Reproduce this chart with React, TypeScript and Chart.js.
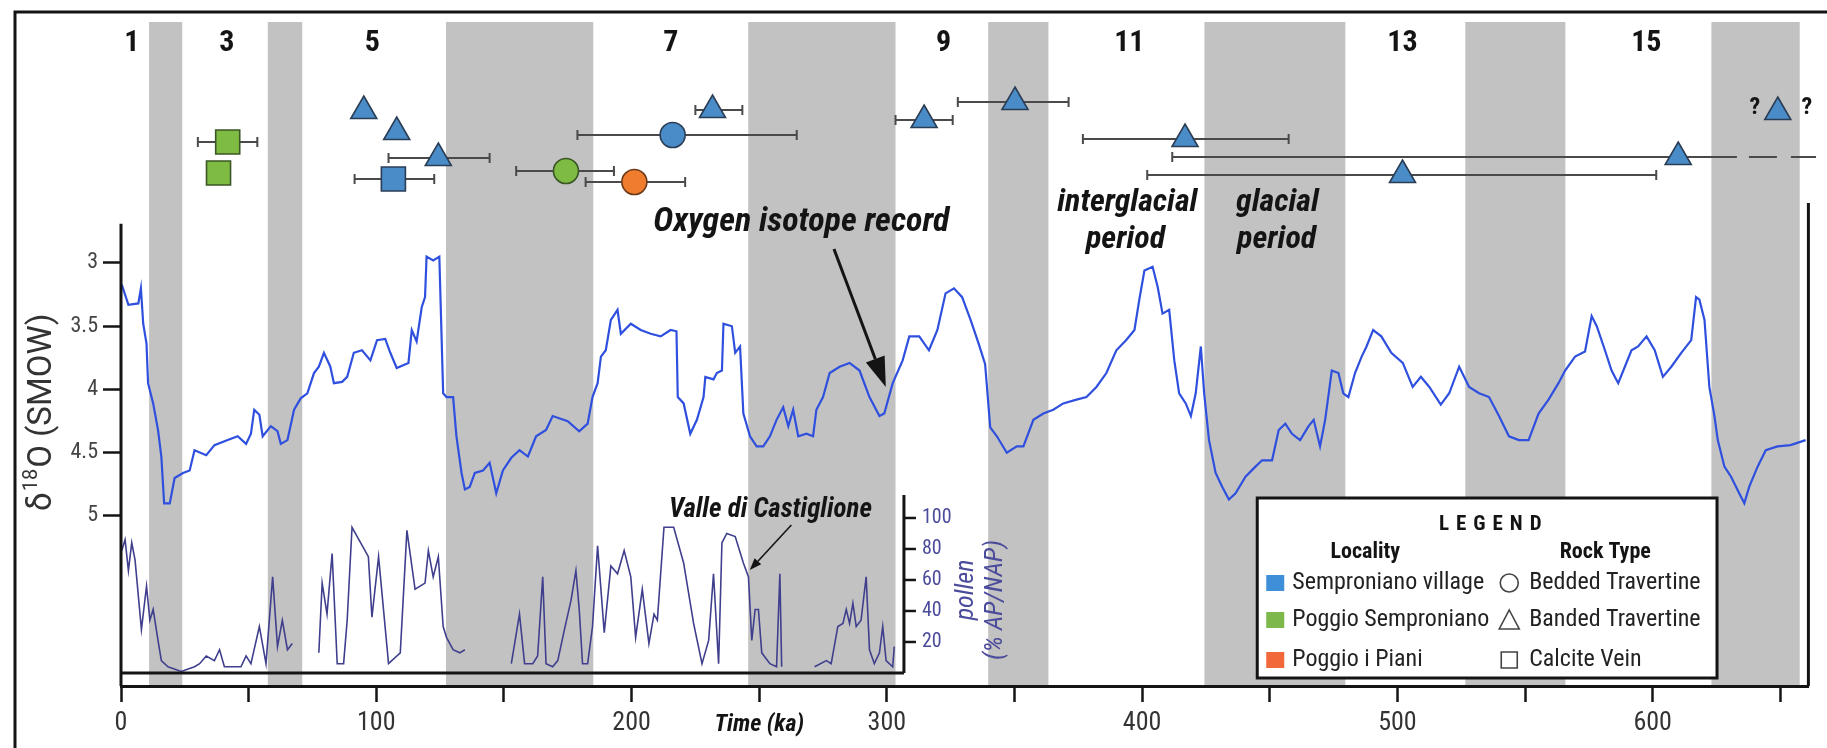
import { useEffect, useRef } from 'react';
import { Chart, registerables } from 'chart.js';

Chart.register(...registerables);

const NARROW = "'Liberation Sans Narrow', 'Arial Narrow', 'Roboto Condensed', Roboto, sans-serif";
const SANS = "Roboto, 'Liberation Sans', sans-serif";

// ---- glacial (even MIS) bands, ka ----
const bandStart = [11, 57.5, 127.3, 245.7, 339.7, 424.4, 526.6, 623];
const bandEnd = [24, 71, 185, 303.4, 363.3, 479.6, 565.8, 657.6];

// ---- interglacial stage numbers ----
const stageLabels = ['1', '3', '5', '7', '9', '11', '13', '15'];
const stageAge = [4.2, 41.5, 98.5, 215.4, 322.2, 395, 502, 597.5];

// ---- oxygen isotope record ----
const isoAge = [
  0.3, 2.9, 6.8, 7.8, 8.7, 10, 10.6, 12.6, 14.5, 15.8,
  16.9, 19.1, 21, 24.3, 26.9, 28.8, 33.4, 36.6, 41.8, 45.7,
  49, 50.9, 52.2, 54.2, 55.5, 58.7, 61.3, 62.6, 65.2, 67.8,
  70.4, 73, 75.6, 77.5, 79.5, 82, 83.4, 86.6, 88.6, 91.2,
  94.4, 97.7, 100.3, 103.5, 105.5, 108, 112.6, 113.9, 115.8, 117.8,
  119.1, 119.7, 122.3, 124.7, 126.2, 127.5, 130.1, 131.4, 133.4, 134.7,
  136.6, 138.6, 141.8, 144.4, 147, 149.6, 152.9, 156.1, 159.4, 162.6,
  166.5, 169.1, 175, 179.5, 182.8, 184.7, 186.7, 188, 189.9, 191.9,
  194.5, 195.8, 199.7, 203.6, 207.5, 211.4, 215.3, 217.6, 218.1, 220.4,
  223, 225.6, 228.2, 228.9, 232.1, 233.4, 235.4, 236, 239.3, 240.6,
  242.5, 243.8, 246.4, 249, 251.6, 254.2, 256.8, 259.4, 261.4, 263.3,
  265.3, 268.5, 271.1, 272.4, 275, 277.6, 281.5, 285.4, 289.3, 293.2,
  297.1, 299, 302.3, 306.2, 308.8, 312.7, 316.5, 319.8, 323, 326.3,
  329.5, 332.8, 336, 338.5, 340.5, 343.1, 347, 350.9, 353.5, 357.4,
  361.3, 365.2, 369.1, 374.3, 378.2, 382.1, 386, 389.9, 393.7, 397,
  398.9, 400.9, 404.1, 406.1, 408, 410.6, 412.6, 414.5, 417.1, 419.1,
  421, 423, 424.3, 426.2, 428.8, 431.4, 434, 436.6, 440.5, 444.4,
  447, 450.9, 453.5, 456.1, 458.7, 461.9, 465.2, 467.2, 469.7, 471.7,
  474.3, 476.9, 478.8, 480.8, 483.4, 486, 487.9, 490.5, 493.7, 497.6,
  502.1, 506, 509.2, 512.5, 517, 520.3, 524.2, 528.1, 532, 535.9,
  539.8, 543.7, 547.6, 551.4, 555.3, 559.2, 563.1, 565.7, 569.6, 573.5,
  576.1, 578.1, 581.3, 583.9, 586.5, 589.1, 591.7, 594.3, 597.6, 600.8,
  604, 607.3, 611.2, 615.1, 617, 618.3, 620.3, 622.2, 624.2, 625.5,
  628.1, 630.7, 633.9, 635.9, 637.8, 641.1, 644.3, 648.9, 654, 659.9,
];
const isoValue = [
  3.17, 3.33, 3.32, 3.2, 3.48, 3.64, 3.95, 4.11, 4.32, 4.53,
  4.9, 4.9, 4.7, 4.66, 4.64, 4.48, 4.52, 4.44, 4.4, 4.37,
  4.43, 4.35, 4.16, 4.2, 4.37, 4.29, 4.33, 4.43, 4.4, 4.16,
  4.07, 4.03, 3.87, 3.82, 3.71, 3.82, 3.95, 3.94, 3.9, 3.71,
  3.69, 3.77, 3.61, 3.6, 3.71, 3.83, 3.79, 3.53, 3.62, 3.35,
  3.27, 2.95, 2.98, 2.95, 4.03, 4.06, 4.06, 4.37, 4.66, 4.79,
  4.77, 4.66, 4.64, 4.58, 4.82, 4.64, 4.54, 4.48, 4.53, 4.37,
  4.32, 4.21, 4.25, 4.33, 4.27, 4.06, 3.95, 3.74, 3.69, 3.45,
  3.37, 3.56, 3.48, 3.53, 3.56, 3.58, 3.53, 3.54, 4.06, 4.11,
  4.35, 4.24, 4.06, 3.9, 3.92, 3.87, 3.85, 3.48, 3.5, 3.71,
  3.66, 4.19, 4.37, 4.45, 4.45, 4.37, 4.24, 4.14, 4.29, 4.16,
  4.37, 4.35, 4.37, 4.16, 4.06, 3.87, 3.82, 3.79, 3.85, 4.06,
  4.21, 4.19, 3.95, 3.77, 3.58, 3.58, 3.69, 3.53, 3.24, 3.2,
  3.27, 3.45, 3.64, 3.8, 4.3, 4.37, 4.5, 4.45, 4.45, 4.24,
  4.19, 4.16, 4.11, 4.08, 4.06, 3.98, 3.87, 3.69, 3.61, 3.53,
  3.29, 3.06, 3.03, 3.19, 3.4, 3.37, 3.77, 4.03, 4.11, 4.21,
  4.03, 3.66, 4.03, 4.4, 4.66, 4.77, 4.87, 4.82, 4.69, 4.61,
  4.56, 4.56, 4.32, 4.27, 4.35, 4.4, 4.29, 4.24, 4.45, 4.24,
  3.85, 3.87, 4.03, 4.06, 3.87, 3.74, 3.66, 3.53, 3.58, 3.71,
  3.79, 3.98, 3.9, 3.98, 4.12, 4.03, 3.82, 3.98, 4.03, 4.06,
  4.21, 4.37, 4.4, 4.4, 4.19, 4.08, 3.95, 3.85, 3.74, 3.7,
  3.42, 3.5, 3.69, 3.85, 3.95, 3.82, 3.69, 3.66, 3.58, 3.69,
  3.9, 3.82, 3.71, 3.61, 3.27, 3.29, 3.45, 3.98, 4.21, 4.4,
  4.61, 4.69, 4.82, 4.9, 4.77, 4.61, 4.48, 4.45, 4.44, 4.4,
];

// ---- Valle di Castiglione pollen (% AP/NAP); null = gap in record ----
const pollenAge = [
  0.3, 1.6, 2.9, 4.2, 5.5, 8, 10, 11.3, 12.6, 14.5,
  15.8, 18.4, 23.6, 28.8, 30.8, 33.4, 36.6, 38.6, 40.5, 47,
  49, 50.9, 54.2, 56.8, 59.4, 61.3, 63.2, 65.2, 67.1, 72,
  77.5, 78.8, 80.7, 82.7, 84.7, 87.2, 88.6, 90.5, 96.9, 98.3,
  100.9, 104.8, 109.4, 112, 115.2, 119.1, 120.4, 122.3, 124.3, 126.2,
  127.5, 130.1, 132.7, 134.7, 143, 152.9, 156.1, 158.1, 161.3, 163.2,
  165.2, 166.5, 169.1, 171.1, 173.7, 176.3, 178.2, 179.5, 180.8, 182.8,
  184.7, 186.7, 189.3, 191.9, 194.5, 197.1, 199.7, 201.6, 204.2, 206.8,
  208.8, 210.1, 212.7, 216.5, 220.4, 224.3, 227.6, 230.2, 232.1, 234.1,
  235.4, 237.3, 240.6, 243.8, 245.8, 247.1, 248.4, 249.7, 251, 254.2,
  256.8, 258.1, 258.8, 265, 271.7, 276.3, 278.2, 280.8, 282.8, 284.1,
  285.4, 286.7, 288, 289.9, 291.9, 293.2, 295.1, 297.1, 298.4, 299.7,
  302.3, 302.9,
];
const pollenValue = [
  79, 86, 66, 84, 73, 28, 56, 34, 41, 21,
  8, 4, 1, 4, 6, 11, 8, 15, 4, 4,
  11, 6, 30, 6, 62, 17, 34, 15, 19, null,
  13, 58, 38, 77, 6, 6, 34, 94, 75, 36,
  75, 6, 13, 92, 54, 58, 79, 62, 75, 30,
  23, 15, 13, 15, null, 6, 38, 6, 6, 11,
  62, 6, 4, 8, 28, 47, 66, 41, 6, 6,
  30, 82, 26, 69, 64, 79, 62, 23, 54, 19,
  38, 34, 94, 94, 71, 32, 6, 21, 64, 6,
  84, 90, 88, 71, 62, 21, 41, 41, 13, 6,
  4, 64, 4, null, 4, 8, 6, 30, 32, 41,
  32, 45, 30, 34, 62, 15, 6, 13, 30, 8,
  4, 17,
];

// ---- dated travertine samples (age ka, plotting row, age range) ----
const sampleAge = [95.1, 108.0, 124.3, 231.7, 314.6, 350.2, 416.8, 610.0, 502.0, 649.0, 106.7, 216.1, 41.8, 38.2, 174.3, 201.1];
const sampleRow = [8.9, 11.0, 13.6, 8.8, 9.8, 8.0, 11.7, 13.5, 15.3, 9.0, 15.7, 11.3, 12.0, 15.1, 14.9, 16.0];
const sampleMin = [null, null, 104.8, 225.0, 303.4, 327.8, 376.8, 411.8, 402.0, null, 91.5, 178.8, 30.1, null, 154.8, 182.0];
const sampleMax = [null, null, 144.4, 243.4, 325.8, 371.2, 457.4, 633.0, 601.4, null, 122.7, 264.7, 53.4, null, 193.1, 221.0];
const sampleMaxUncertain = [null, null, null, null, null, null, null, 664, null, null, null, null, null, null, null, null];
const sampleQueried = [false, false, false, false, false, false, false, false, false, true, false, false, false, false, false, false];
const sampleLocality = [
  'Semproniano village', 'Semproniano village', 'Semproniano village', 'Semproniano village',
  'Semproniano village', 'Semproniano village', 'Semproniano village', 'Semproniano village',
  'Semproniano village', 'Semproniano village', 'Semproniano village', 'Semproniano village',
  'Poggio Semproniano', 'Poggio Semproniano', 'Poggio Semproniano', 'Poggio i Piani',
];
const sampleRock = [
  'Banded Travertine', 'Banded Travertine', 'Banded Travertine', 'Banded Travertine',
  'Banded Travertine', 'Banded Travertine', 'Banded Travertine', 'Banded Travertine',
  'Banded Travertine', 'Banded Travertine', 'Calcite Vein', 'Bedded Travertine',
  'Calcite Vein', 'Calcite Vein', 'Bedded Travertine', 'Bedded Travertine',
];

// ---- axes ----
const timeTicks = [0, 50, 100, 150, 200, 250, 300, 350, 400, 450, 500, 550, 600, 650];
const isoTicks = [3, 3.5, 4, 4.5, 5];
const pollenTicks = [20, 40, 60, 80, 100];

const LOCALITIES = ['Semproniano village', 'Poggio Semproniano', 'Poggio i Piani'];
const ROCK_TYPES = ['Bedded Travertine', 'Banded Travertine', 'Calcite Vein'];

const LOC_FILL: Record<string, string> = {
  'Semproniano village': '#4a8cc8',
  'Poggio Semproniano': '#7dbb42',
  'Poggio i Piani': '#f07d2e',
};
const LOC_EDGE: Record<string, string> = {
  'Semproniano village': '#2a3d55',
  'Poggio Semproniano': '#3b5626',
  'Poggio i Piani': '#6b3a1a',
};
const LOC_SWATCH: Record<string, string> = {
  'Semproniano village': '#3f8fd8',
  'Poggio Semproniano': '#7cb84a',
  'Poggio i Piani': '#f2683a',
};
const ROCK_STYLE: Record<string, { style: string; radius: number }> = {
  'Bedded Travertine': { style: 'circle', radius: 12.5 },
  'Banded Travertine': { style: 'triangle', radius: 15 },
  'Calcite Vein': { style: 'rect', radius: 17 },
};

const BAND = '#c2c2c2';
const INK = '#141414';
const POLLEN_INK = '#4b4b9b';

function buildSampleDatasets() {
  const sets: any[] = [];
  for (const loc of LOCALITIES) {
    for (const rock of ROCK_TYPES) {
      const pts: any[] = [];
      sampleAge.forEach((age, i) => {
        if (sampleLocality[i] === loc && sampleRock[i] === rock) {
          pts.push({
            x: age,
            y: sampleRow[i],
            xMin: sampleMin[i],
            xMax: sampleMax[i],
            xMaxUncertain: sampleMaxUncertain[i],
            queried: sampleQueried[i],
          });
        }
      });
      if (pts.length) {
        sets.push({
          label: `${loc} – ${rock}`,
          data: pts,
          yAxisID: 'yRow',
          showLine: false,
          pointStyle: ROCK_STYLE[rock].style,
          pointRadius: ROCK_STYLE[rock].radius,
          pointHoverRadius: ROCK_STYLE[rock].radius,
          backgroundColor: LOC_FILL[loc],
          borderColor: LOC_EDGE[loc],
          pointBorderWidth: 1.6,
          isSample: true,
        });
      }
    }
  }
  return sets;
}

function drawText(ctx: CanvasRenderingContext2D, s: string, x: number, y: number, font: string, color: string, align: CanvasTextAlign = 'center', maxW?: number) {
  ctx.font = font;
  ctx.fillStyle = color;
  ctx.textAlign = align;
  ctx.textBaseline = 'middle';
  if (maxW) ctx.fillText(s, x, y, maxW);
  else ctx.fillText(s, x, y);
}

function drawSpaced(ctx: CanvasRenderingContext2D, s: string, cx: number, y: number, font: string, spacing: number) {
  ctx.font = font;
  ctx.fillStyle = INK;
  ctx.textAlign = 'left';
  ctx.textBaseline = 'middle';
  const widths = s.split('').map((c) => ctx.measureText(c).width);
  const total = widths.reduce((a, b) => a + b, 0) + spacing * (s.length - 1);
  let x = cx - total / 2;
  s.split('').forEach((c, i) => {
    ctx.fillText(c, x, y);
    x += widths[i] + spacing;
  });
}

function drawArrow(ctx: CanvasRenderingContext2D, x0: number, y0: number, x1: number, y1: number, lw: number, headLen: number, headW: number) {
  const ang = Math.atan2(y1 - y0, x1 - x0);
  const bx = x1 - headLen * Math.cos(ang);
  const by = y1 - headLen * Math.sin(ang);
  ctx.strokeStyle = INK;
  ctx.fillStyle = INK;
  ctx.lineWidth = lw;
  ctx.beginPath();
  ctx.moveTo(x0, y0);
  ctx.lineTo(bx, by);
  ctx.stroke();
  ctx.beginPath();
  ctx.moveTo(x1, y1);
  ctx.lineTo(bx + (headW / 2) * Math.sin(ang), by - (headW / 2) * Math.cos(ang));
  ctx.lineTo(bx - (headW / 2) * Math.sin(ang), by + (headW / 2) * Math.cos(ang));
  ctx.closePath();
  ctx.fill();
}

const figurePlugin = {
  id: 'figure',
  beforeDraw(chart: any) {
    const { ctx, chartArea: a, scales } = chart;
    ctx.save();
    ctx.fillStyle = '#ffffff';
    ctx.fillRect(0, 0, chart.width, chart.height);
    ctx.fillStyle = BAND;
    bandStart.forEach((s, i) => {
      const x0 = scales.x.getPixelForValue(s);
      const x1 = scales.x.getPixelForValue(bandEnd[i]);
      ctx.fillRect(x0, a.top, x1 - x0, a.bottom - a.top);
    });
    ctx.restore();
  },
  beforeDatasetsDraw(chart: any) {
    const { ctx, scales } = chart;
    const X = (v: number) => scales.x.getPixelForValue(v);
    const R = (v: number) => scales.yRow.getPixelForValue(v);
    ctx.save();
    ctx.strokeStyle = '#4a4a4a';
    ctx.lineWidth = 2;
    chart.data.datasets.forEach((ds: any) => {
      if (!ds.isSample) return;
      ds.data.forEach((p: any) => {
        if (p.xMin == null) return;
        const y = R(p.y);
        const x0 = X(p.xMin);
        const x1 = X(p.xMax);
        ctx.setLineDash([]);
        ctx.beginPath();
        ctx.moveTo(x0, y);
        ctx.lineTo(x1, y);
        ctx.moveTo(x0, y - 5);
        ctx.lineTo(x0, y + 5);
        if (p.xMaxUncertain == null) {
          ctx.moveTo(x1, y - 5);
          ctx.lineTo(x1, y + 5);
        }
        ctx.stroke();
        if (p.xMaxUncertain != null) {
          ctx.setLineDash([28, 14]);
          ctx.lineDashOffset = -12;
          ctx.beginPath();
          ctx.moveTo(x1, y);
          ctx.lineTo(X(p.xMaxUncertain), y);
          ctx.stroke();
          ctx.setLineDash([]);
        }
      });
    });
    ctx.restore();
  },
  afterDatasetsDraw(chart: any) {
    const { ctx, chartArea: a, scales } = chart;
    const X = (v: number) => scales.x.getPixelForValue(v);
    const R = (v: number) => scales.yRow.getPixelForValue(v);
    const Y = (v: number) => scales.y.getPixelForValue(v);
    const P = (v: number) => scales.y2.getPixelForValue(v);
    ctx.save();

    // frame + axis lines
    ctx.strokeStyle = INK;
    ctx.lineWidth = 3;
    ctx.beginPath();
    ctx.moveTo(15, chart.height);
    ctx.lineTo(15, 12);
    ctx.lineTo(chart.width, 12);
    ctx.moveTo(a.left, Y(2.69));
    ctx.lineTo(a.left, a.bottom);
    ctx.moveTo(a.right, R(18.1));
    ctx.lineTo(a.right, a.bottom);
    ctx.stroke();

    // pollen sub-axes
    const px = X(306.7);
    ctx.beginPath();
    ctx.moveTo(a.left, P(0));
    ctx.lineTo(px, P(0));
    ctx.moveTo(px, P(0));
    ctx.lineTo(px, P(114.8));
    ctx.stroke();
    ctx.lineWidth = 2.5;
    pollenTicks.forEach((v) => {
      ctx.beginPath();
      ctx.moveTo(px, P(v));
      ctx.lineTo(px + 12, P(v));
      ctx.stroke();
      drawText(ctx, String(v), px + 18, P(v), `20px ${NARROW}`, POLLEN_INK, 'left');
    });
    // pollen axis title
    ctx.save();
    ctx.translate(X(331.3), R(56.8));
    ctx.rotate(-Math.PI / 2);
    drawText(ctx, 'pollen', 0, 0, `italic 26px ${NARROW}`, POLLEN_INK, 'center', 86);
    ctx.restore();
    ctx.save();
    ctx.translate(X(342.6), R(57.8));
    ctx.rotate(-Math.PI / 2);
    drawText(ctx, '(% AP/NAP)', 0, 0, `italic 26px ${NARROW}`, POLLEN_INK, 'center', 148);
    ctx.restore();

    // delta 18O title
    ctx.save();
    ctx.translate(a.left - 80, Y(4.18));
    ctx.rotate(-Math.PI / 2);
    ctx.textBaseline = 'middle';
    ctx.fillStyle = '#333';
    const big = `33px ${SANS}`;
    const small = `20px ${SANS}`;
    ctx.font = big;
    const wD = ctx.measureText('δ').width;
    const wRest = ctx.measureText('O (SMOW)').width;
    ctx.font = small;
    const w18 = ctx.measureText('18').width;
    let tx = -(wD + w18 + 2 + wRest) / 2;
    ctx.textAlign = 'left';
    ctx.font = big;
    ctx.fillText('δ', tx, 2);
    tx += wD + 1;
    ctx.font = small;
    ctx.fillText('18', tx, -9);
    tx += w18 + 1;
    ctx.font = big;
    ctx.fillText('O (SMOW)', tx, 2);
    ctx.restore();

    // stage numbers
    stageLabels.forEach((s, i) => drawText(ctx, s, X(stageAge[i]), R(2.1), `bold 30px ${NARROW}`, INK));

    // queried sample marks
    chart.data.datasets.forEach((ds: any) => {
      if (!ds.isSample) return;
      ds.data.forEach((p: any) => {
        if (!p.queried) return;
        drawText(ctx, '?', X(p.x) - 23, R(p.y) - 4, `bold 24px ${NARROW}`, INK);
        drawText(ctx, '?', X(p.x) + 29, R(p.y) - 4, `bold 24px ${NARROW}`, INK);
      });
    });

    // annotations
    const bi = (n: number) => `italic bold ${n}px ${NARROW}`;
    drawText(ctx, 'Oxygen isotope record', X(266.5), R(20.0), bi(34), INK, 'center', 300);
    drawArrow(ctx, X(279.3), R(22.7), X(299.6), R(36.5), 3, 30, 20);
    drawText(ctx, 'Valle di Castiglione', X(254.4), R(48.8), bi(27), INK, 'center', 210);
    drawArrow(ctx, X(262.6), R(50.3), X(246.3), R(54.8), 1.6, 12, 9);
    drawText(ctx, 'interglacial', X(394.2), R(18.1), bi(32), INK, 'center', 154);
    drawText(ctx, 'period', X(393.5), R(21.8), bi(32), INK, 'center', 88);
    drawText(ctx, 'glacial', X(453), R(18.1), bi(32), INK, 'center', 90);
    drawText(ctx, 'period', X(452.7), R(21.8), bi(32), INK, 'center', 88);
    drawText(ctx, 'Time (ka)', X(250), R(70.3), bi(24), INK, 'center', 104);

    // legend
    const L = X(445.1);
    const T = R(47.6);
    const W = X(625.2) - L;
    const H = R(65.6) - T;
    ctx.fillStyle = '#ffffff';
    ctx.fillRect(L, T, W, H);
    ctx.lineWidth = 3;
    ctx.strokeStyle = INK;
    ctx.strokeRect(L, T, W, H);
    drawSpaced(ctx, 'LEGEND', L + 233, T + 27, `bold 21px ${NARROW}`, 7);
    drawText(ctx, 'Locality', L + 108, T + 54, `bold 22px ${NARROW}`, INK, 'center', 82);
    drawText(ctx, 'Rock Type', L + 348, T + 54, `bold 22px ${NARROW}`, INK, 'center', 104);
    const rowY = [T + 85, T + 122, T + 162];
    LOCALITIES.forEach((loc, i) => {
      ctx.fillStyle = LOC_SWATCH[loc];
      ctx.fillRect(L + 9, rowY[i] - 8, 18, 16);
      drawText(ctx, loc, L + 35, rowY[i], `24px ${NARROW}`, '#222', 'left', 204);
    });
    ROCK_TYPES.forEach((rock, i) => {
      const cx = L + 252;
      const cy = rowY[i];
      ctx.strokeStyle = '#444';
      ctx.lineWidth = 1.6;
      ctx.beginPath();
      if (ROCK_STYLE[rock].style === 'circle') ctx.arc(cx, cy, 9, 0, Math.PI * 2);
      else if (ROCK_STYLE[rock].style === 'triangle') {
        ctx.moveTo(cx, cy - 10);
        ctx.lineTo(cx + 10, cy + 9);
        ctx.lineTo(cx - 10, cy + 9);
        ctx.closePath();
      } else ctx.rect(cx - 8, cy - 8, 16, 16);
      ctx.stroke();
      drawText(ctx, rock, L + 272, cy, `24px ${NARROW}`, '#222', 'left', 184);
    });

    ctx.restore();
  },
};

export default function App() {
  const ref = useRef<HTMLCanvasElement | null>(null);
  useEffect(() => {
    if (!ref.current) return;
    const isoData = isoAge.map((x, i) => ({ x, y: isoValue[i] }));
    const pollenData = pollenAge.map((x, i) => ({ x, y: pollenValue[i] }));
    const chart = new Chart(ref.current, {
      type: 'scatter',
      data: {
        datasets: [
          ...buildSampleDatasets(),
          {
            label: 'Oxygen isotope record',
            data: isoData,
            yAxisID: 'y',
            showLine: true,
            borderColor: '#2f50de',
            borderWidth: 2.2,
            pointRadius: 0,
            tension: 0,
          } as any,
          {
            label: 'Valle di Castiglione pollen',
            data: pollenData,
            yAxisID: 'y2',
            showLine: true,
            spanGaps: false,
            borderColor: '#3f3f8e',
            borderWidth: 1.6,
            pointRadius: 0,
            tension: 0,
          } as any,
        ],
      },
      options: {
        animation: false,
        responsive: false,
        maintainAspectRatio: false,
        devicePixelRatio: 1,
        events: [],
        layout: { padding: { top: 22, right: 10, left: 0, bottom: 0 } },
        plugins: { legend: { display: false }, tooltip: { enabled: false } },
        scales: {
          x: {
            type: 'linear',
            position: 'bottom',
            min: 0,
            max: 661,
            afterBuildTicks: (s: any) => {
              s.ticks = timeTicks.map((v) => ({ value: v }));
            },
            afterFit: (s: any) => {
              s.height = 62;
            },
            ticks: {
              autoSkip: false,
              maxRotation: 0,
              padding: 6,
              color: '#333',
              font: { family: NARROW, size: 26 },
              callback: (v: any) => (Number(v) % 100 === 0 ? String(v) : ''),
            },
            grid: { drawOnChartArea: false, drawTicks: true, tickLength: 16, tickWidth: 2.5, tickColor: INK },
            border: { display: true, color: INK, width: 3 },
          },
          y: {
            type: 'linear',
            position: 'left',
            reverse: true,
            min: 1.095,
            max: 6.344,
            afterBuildTicks: (s: any) => {
              s.ticks = isoTicks.map((v) => ({ value: v }));
            },
            afterFit: (s: any) => {
              s.width = 121;
            },
            ticks: {
              autoSkip: false,
              padding: 5,
              color: '#444',
              font: { family: NARROW, size: 22 },
              callback: (v: any) => String(v),
            },
            grid: { drawOnChartArea: false, drawTicks: true, tickLength: 18, tickWidth: 2.5, tickColor: INK },
            border: { display: false },
          },
          y2: {
            type: 'linear',
            axis: 'y',
            position: 'left',
            display: false,
            min: -8.4,
            max: 420,
          },
          yRow: {
            type: 'linear',
            axis: 'y',
            position: 'left',
            display: false,
            reverse: true,
            min: 0,
            max: 66.4,
          },
        } as any,
      },
      plugins: [figurePlugin as any],
    });
    return () => chart.destroy();
  }, []);
  return (
    <div style={{ position: 'fixed', left: 0, top: 0, width: 1827, height: 748, background: '#fff' }}>
      <canvas ref={ref} width={1827} height={748} style={{ width: 1827, height: 748, display: 'block' }} />
    </div>
  );
}
